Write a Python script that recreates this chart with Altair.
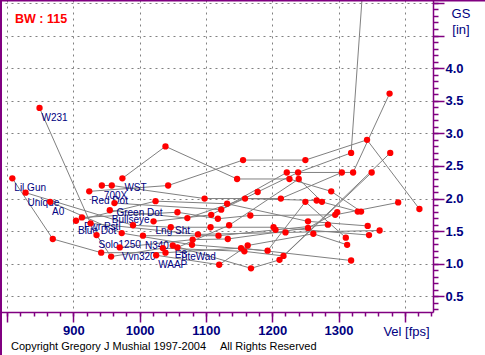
import altair as alt
import pandas as pd

# ---------------- data ----------------
series_names = ["Lil Gun", "Unique", "W231", "A0", "Blue Dot", "Pwr Pstl", "Red Dot",
                "700X", "WST", "Green Dot", "Bullseye", "Solo1250", "N340", "Vvn320",
                "Lng Sht", "WAAP", "E3", "TiteWad"]

series_vel = [
    [808, 869, 942, 1039, 1153, 1319],
    [828, 990, 1047, 1107, 1202, 1346],
    [849, 926, 1088, 1220, 1362],
    [865, 973, 1079, 1193, 1250, 1311],
    [904, 1024, 1132, 1254, 1344],
    [913, 1057, 1118, 1167, 1295, 1390],
    [924, 1043, 1156, 1250, 1343, 1422],
    [943, 958, 1098, 1213, 1305],
    [974, 1039, 1147, 1226, 1289, 1334],
    [962, 1123, 1178, 1239, 1319, 1342],
    [955, 1072, 1159, 1267, 1329],
    [935, 957, 1035, 1158, 1217, 1378],
    [1005, 1119, 1205, 1284],
    [970, 1080, 1133, 1254, 1298],
    [1021, 1108, 1222, 1322, 1377],
    [1025, 1120, 1163, 1262, 1313],
    [1050, 1168, 1211, 1350],
    [1057, 1135, 1240, 1275],
]

series_gs = [
    [2.31, 1.38, 1.17, 1.17, 1.24, 1.05],
    [2.09, 1.59, 1.56, 1.56, 1.56, 1.44],
    [3.39, 1.62, 1.45, 1.48, 1.51],
    [1.95, 1.47, 1.29, 1.20, 1.95, 1.40],
    [1.66, 1.96, 1.92, 1.65, 1.58],
    [1.71, 1.79, 1.69, 1.74, 1.75, 1.94],
    [2.11, 2.20, 2.59, 2.59, 2.90, 1.84],
    [2.20, 2.20, 2.00, 2.00, 2.40],
    [2.31, 2.80, 2.30, 2.30, 2.11, 1.80],
    [1.93, 1.83, 2.10, 2.40, 2.70, 6.00],
    [1.82, 1.70, 2.00, 1.97, 1.80],
    [1.44, 1.11, 1.24, 1.19, 1.12, 2.70],
    [1.43, 1.43, 1.52, 1.60],
    [1.25, 1.37, 1.38, 1.55, 1.79],
    [1.65, 1.75, 2.40, 2.40, 3.61],
    [1.13, 0.985, 1.28, 1.46, 1.29],
    [1.28, 0.93, 1.06, 2.40],
    [1.25, 1.59, 2.30, 1.95],
]

x_major = [800, 900, 1000, 1100, 1200, 1300, 1400]
x_minor = list(range(800, 1441, 20))
y_major = [0.5, 1.0, 1.5, 2.0, 2.5, 3.0, 3.5, 4.0, 4.5, 5.0]
y_minor = [round(0.3 + 0.1 * i, 1) for i in range(48)]

title_text = ["BW : 115"]
y_title = ["GS", "[in]"]
x_title = ["Vel [fps]"]
copyright_text = ["Copyright Gregory J  Mushial 1997-2004", "All Rights Reserved"]

# ---------------- build tables ----------------
rows = []
for name, vs, gs in zip(series_names, series_vel, series_gs):
    for i, (v, g) in enumerate(zip(vs, gs)):
        rows.append({"series": name, "vel": v, "gs": g, "idx": i})
df = pd.DataFrame(rows)
first = df[df["idx"] == 0]

PURPLE = "#800080"
NAVY = "#000080"
FONT = "Liberation Sans"

xscale = alt.Scale(domain=[789.4, 1442.5], nice=False, zero=False)
yscale = alt.Scale(domain=[0.26, 5.045], nice=False, zero=False)

x_major_axis = alt.Axis(
    values=x_major, orient="bottom", title=None, grid=True,
    gridColor="#808080", gridDash=[2, 4], gridWidth=1,
    domainColor=PURPLE, domainWidth=1.5, tickColor=PURPLE, tickWidth=1.5, tickSize=10,
    labelExpr="datum.value >= 900 && datum.value <= 1300 ? datum.label : ''",
    labelColor=NAVY, labelFont=FONT, labelFontSize=13, labelFontWeight="bold",
    labelPadding=2, labelOverlap=False, labelFlush=False, format="d",
)
x_minor_axis = alt.Axis(
    values=x_minor, orient="bottom", title=None, grid=False, domain=False,
    tickColor=PURPLE, tickWidth=1.5, tickSize=4, labels=False,
)
y_major_axis = alt.Axis(
    values=y_major, orient="right", title=None, grid=True,
    gridColor="#808080", gridDash=[2, 4], gridWidth=1,
    domainColor=PURPLE, domainWidth=1.5, tickColor=PURPLE, tickWidth=1.5, tickSize=11,
    labelExpr="datum.value <= 4.0 ? format(datum.value, '.1f') : ''",
    labelColor=NAVY, labelFont=FONT, labelFontSize=13, labelFontWeight="bold",
    labelPadding=1, labelOverlap=False, labelFlush=False,
)
y_minor_axis = alt.Axis(
    values=y_minor, orient="right", title=None, grid=False, domain=False,
    tickColor=PURPLE, tickWidth=1.5, tickSize=5, labels=False,
)

lines = alt.Chart(df).mark_line(color="#808080", strokeWidth=1, clip=True).encode(
    x=alt.X("vel:Q", scale=xscale, axis=x_major_axis),
    y=alt.Y("gs:Q", scale=yscale, axis=y_major_axis),
    detail="series:N",
    order="idx:Q",
)

labels = alt.Chart(first).mark_text(
    align="left", baseline="middle", dx=2, dy=10, font=FONT, fontSize=10, color=NAVY
).encode(
    x=alt.X("vel:Q", scale=xscale, axis=None),
    y=alt.Y("gs:Q", scale=yscale, axis=None),
    text="series:N",
)

points = alt.Chart(df).mark_circle(color="#ff0000", opacity=1, size=40, clip=True).encode(
    x=alt.X("vel:Q", scale=xscale, axis=x_minor_axis),
    y=alt.Y("gs:Q", scale=yscale, axis=y_minor_axis),
)


def txt(text, x, y, **kw):
    return alt.Chart(pd.DataFrame({"t": [text]})).mark_text(font=FONT, **kw).encode(
        x=alt.value(x), y=alt.value(y), text="t:N"
    )


one = pd.DataFrame({"a": [0]})
frame_top = alt.Chart(one).mark_rule(color=PURPLE, strokeWidth=1.5).encode(
    x=alt.value(0), x2=alt.value(485), y=alt.value(0.75)
)
frame_left = alt.Chart(one).mark_rule(color=PURPLE, strokeWidth=2).encode(
    x=alt.value(1), y=alt.value(0), y2=alt.value(355)
)

annotations = [
    txt(title_text[0], 15, 22.5, align="left", baseline="alphabetic", fontSize=12.5,
        fontWeight="bold", color="#ff0000"),
    txt(y_title[0], 461, 17.5, align="center", baseline="alphabetic", fontSize=13, color=NAVY),
    txt(y_title[1], 461, 33.5, align="center", baseline="alphabetic", fontSize=13, color=NAVY),
    txt(x_title[0], 406.5, 336, align="center", baseline="alphabetic", fontSize=13, color=NAVY),
    txt(copyright_text[0], 11, 349.5, align="left", baseline="alphabetic", fontSize=11,
        color="#000000"),
    txt(copyright_text[1], 220, 349.5, align="left", baseline="alphabetic", fontSize=11,
        color="#000000"),
]

chart = alt.layer(lines, labels, points, frame_top, frame_left, *annotations).resolve_axis(
    x="independent", y="independent"
).properties(
    width=433, height=312, autosize="none",
    padding={"left": 0, "top": 0, "right": 52, "bottom": 43},
    background="#ffffff",
).configure_view(stroke=None)

chart.save("out.html", embed_options={"renderer": "svg", "actions": False})
